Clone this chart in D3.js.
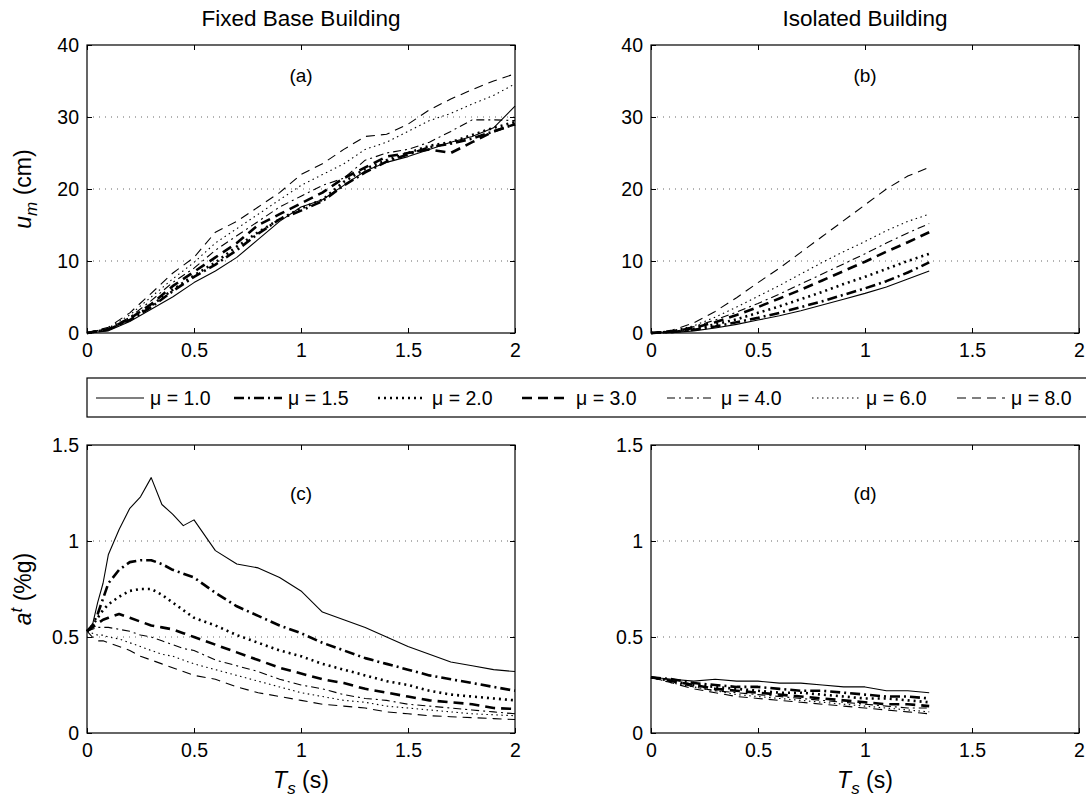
<!DOCTYPE html>
<html><head><meta charset="utf-8">
<script src="https://cdn.jsdelivr.net/npm/d3@7"></script>
<style>body{margin:0;background:#fff}svg{display:block;font-family:"Liberation Sans",Arial,Helvetica,sans-serif}</style>
</head><body>
<script>
// ---------- data ----------
const labels = ["μ = 1.0","μ = 1.5","μ = 2.0","μ = 3.0","μ = 4.0","μ = 6.0","μ = 8.0"];
const xTicks = [0,0.5,1,1.5,2];
const yTicksTop = [0,10,20,30,40];
const yTicksBottom = [0,0.5,1,1.5];
const colTitles = ["Fixed Base Building","Isolated Building"];
const panelTags = ["(a)","(b)","(c)","(d)"];

// (a) fixed base, displacement (cm)
const tA = [0,0.1,0.2,0.3,0.4,0.5,0.6,0.7,0.8,0.9,1.0,1.1,1.2,1.3,1.4,1.5,1.6,1.7,1.8,1.9,2.0];
const uA_10 = [0,0.3,1.6,3.3,5.0,7.0,8.6,10.5,13.0,15.5,17.5,18.5,20.5,22.5,23.7,24.5,25.5,26.5,27.3,28.5,31.5];
const uA_15 = [0,0.5,1.8,3.6,5.8,7.8,9.5,11.5,13.8,15.8,17.0,18.3,20.5,22.3,23.8,24.8,25.8,26.3,27.0,28.0,29.0];
const uA_20 = [0,0.5,1.9,3.8,6.0,8.0,9.8,12.0,14.0,15.8,17.3,18.5,21.0,22.8,24.0,25.0,26.0,26.5,27.5,28.5,29.3];
const uA_30 = [0,0.5,2.0,4.0,6.5,8.5,10.5,12.5,15.0,16.5,18.0,19.5,21.5,23.0,24.5,25.0,25.5,25.0,26.5,28.0,29.0];
const uA_40 = [0,0.6,2.2,4.5,7.0,9.0,11.5,13.5,15.5,17.5,19.0,20.5,21.5,24.0,25.0,25.5,26.5,28.0,29.6,29.6,29.5];
const uA_60 = [0,0.7,2.5,5.0,7.5,9.8,12.5,14.5,16.5,18.5,20.5,22.0,23.5,25.5,26.5,28.0,29.5,30.5,31.8,33.0,34.6];
const uA_80 = [0,0.8,2.8,5.5,8.3,10.5,14.0,15.5,17.5,19.5,22.0,23.5,25.5,27.3,27.6,29.0,31.0,32.5,33.8,35.0,36.0];

// (b) isolated, displacement (cm)
const tB = [0,0.1,0.2,0.3,0.4,0.5,0.6,0.7,0.8,0.9,1.0,1.1,1.2,1.3];
const uB_10 = [0,0.05,0.3,0.7,1.2,1.8,2.4,3.1,3.9,4.7,5.5,6.4,7.5,8.6];
const uB_15 = [0,0.15,0.45,0.9,1.5,2.1,2.8,3.6,4.4,5.3,6.2,7.2,8.4,9.8];
const uB_20 = [0,0.2,0.6,1.2,1.9,2.8,3.7,4.7,5.7,6.8,7.8,8.9,10.0,11.0];
const uB_30 = [0,0.2,0.7,1.5,2.5,3.6,4.8,6.0,7.3,8.6,9.9,11.3,12.6,14.0];
const uB_40 = [0,0.3,0.9,1.8,2.9,4.1,5.4,6.8,8.2,9.6,11.0,12.5,13.9,15.2];
const uB_60 = [0,0.3,1.0,2.2,3.6,5.1,6.6,8.2,9.8,11.3,12.7,14.2,15.5,16.5];
const uB_80 = [0,0.4,1.4,3.0,4.9,7.0,9.0,11.2,13.4,15.6,17.8,20.0,21.8,23.0];

// (c) fixed base, acceleration (%g)
const tC = [0,0.025,0.05,0.075,0.1,0.15,0.2,0.25,0.3,0.35,0.4,0.45,0.5,0.6,0.7,0.8,0.9,1.0,1.1,1.2,1.3,1.4,1.5,1.6,1.7,1.8,1.9,2.0];
const aC_10 = [0.53,0.56,0.68,0.78,0.93,1.06,1.17,1.23,1.33,1.19,1.14,1.08,1.11,0.95,0.88,0.86,0.81,0.74,0.63,0.59,0.55,0.50,0.45,0.41,0.37,0.35,0.33,0.32];
const aC_15 = [0.53,0.56,0.62,0.70,0.78,0.85,0.89,0.90,0.90,0.88,0.85,0.83,0.81,0.73,0.66,0.61,0.56,0.52,0.47,0.43,0.39,0.36,0.33,0.30,0.28,0.26,0.24,0.22];
const aC_20 = [0.53,0.56,0.60,0.64,0.67,0.71,0.74,0.75,0.75,0.72,0.68,0.64,0.60,0.56,0.51,0.47,0.43,0.40,0.36,0.33,0.30,0.27,0.25,0.22,0.20,0.19,0.18,0.17];
const aC_30 = [0.53,0.55,0.57,0.59,0.60,0.62,0.60,0.58,0.56,0.55,0.54,0.52,0.50,0.46,0.42,0.38,0.34,0.31,0.28,0.26,0.23,0.21,0.19,0.17,0.16,0.15,0.13,0.125];
const aC_40 = [0.53,0.54,0.55,0.55,0.55,0.54,0.53,0.51,0.50,0.48,0.46,0.44,0.43,0.38,0.35,0.32,0.28,0.25,0.23,0.20,0.18,0.17,0.15,0.14,0.13,0.12,0.11,0.10];
const aC_60 = [0.53,0.52,0.51,0.51,0.50,0.49,0.47,0.45,0.43,0.41,0.40,0.38,0.36,0.33,0.30,0.27,0.24,0.21,0.19,0.17,0.16,0.14,0.13,0.12,0.11,0.10,0.095,0.09];
const aC_80 = [0.53,0.50,0.48,0.48,0.47,0.45,0.43,0.40,0.38,0.36,0.34,0.32,0.30,0.28,0.24,0.21,0.19,0.17,0.15,0.14,0.13,0.11,0.10,0.09,0.085,0.08,0.075,0.07];

// (d) isolated, acceleration (%g)
const tD = [0,0.1,0.2,0.3,0.4,0.5,0.6,0.7,0.8,0.9,1.0,1.1,1.2,1.3];
const aD_10 = [0.29,0.28,0.27,0.28,0.27,0.27,0.26,0.26,0.25,0.24,0.24,0.22,0.22,0.21];
const aD_15 = [0.29,0.28,0.26,0.25,0.24,0.24,0.23,0.22,0.22,0.21,0.20,0.19,0.19,0.18];
const aD_20 = [0.29,0.27,0.25,0.24,0.23,0.22,0.21,0.21,0.20,0.19,0.18,0.18,0.17,0.16];
const aD_30 = [0.29,0.27,0.25,0.23,0.22,0.21,0.20,0.19,0.18,0.17,0.16,0.15,0.15,0.14];
const aD_40 = [0.29,0.27,0.24,0.22,0.21,0.20,0.19,0.18,0.17,0.16,0.15,0.14,0.13,0.13];
const aD_60 = [0.29,0.26,0.24,0.22,0.20,0.19,0.18,0.17,0.16,0.15,0.14,0.13,0.12,0.11];
const aD_80 = [0.29,0.26,0.23,0.21,0.19,0.18,0.17,0.16,0.15,0.14,0.13,0.12,0.11,0.10];

// ---------- styles ----------
const styles = [
  {w:1.1, dash:null},
  {w:2.6, dash:"10,4,2,4"},
  {w:2.6, dash:"2,4"},
  {w:2.6, dash:"10,6"},
  {w:1.1, dash:"8,4,2,4"},
  {w:1.1, dash:"1.5,3.5"},
  {w:1.1, dash:"9,6"}
];

const W = 1086, H = 805;
const svg = d3.select("body").append("svg").attr("width",W).attr("height",H);
const PW = 428, PH = 288;
const panels = [
  {x:87,  y:45,  t:tA, ys:[uA_10,uA_15,uA_20,uA_30,uA_40,uA_60,uA_80], ymax:40,  yt:yTicksTop, tag:panelTags[0], tagY:37},
  {x:651, y:45,  t:tB, ys:[uB_10,uB_15,uB_20,uB_30,uB_40,uB_60,uB_80], ymax:40,  yt:yTicksTop, tag:panelTags[1], tagY:37},
  {x:87,  y:445, t:tC, ys:[aC_10,aC_15,aC_20,aC_30,aC_40,aC_60,aC_80], ymax:1.5, yt:yTicksBottom, tag:panelTags[2], tagY:55},
  {x:651, y:445, t:tD, ys:[aD_10,aD_15,aD_20,aD_30,aD_40,aD_60,aD_80], ymax:1.5, yt:yTicksBottom, tag:panelTags[3], tagY:55}
];
const fmt = d => d3.format("~g")(d);

panels.forEach((p,pi)=>{
  const g = svg.append("g").attr("transform",`translate(${p.x},${p.y})`);
  const x = d3.scaleLinear().domain([0,2]).range([0,PW]);
  const y = d3.scaleLinear().domain([0,p.ymax]).range([PH,0]);
  // grid
  g.append("g").selectAll("line").data(p.yt.filter(v=>v>0 && v<p.ymax)).join("line")
    .attr("x1",0).attr("x2",PW).attr("y1",d=>y(d)).attr("y2",d=>y(d))
    .attr("stroke","#666").attr("stroke-width",1).attr("stroke-dasharray","1,5");
  // lines
  const line = d3.line().x((d,i)=>x(p.t[i])).y(d=>y(d));
  p.ys.forEach((s,si)=>{
    g.append("path").datum(s).attr("d",line).attr("fill","none").attr("stroke","#000")
      .attr("stroke-width",styles[si].w).attr("stroke-dasharray",styles[si].dash)
      .attr("stroke-linejoin","round");
  });
  // axes
  const ax = g.append("g").attr("transform",`translate(0,${PH})`)
    .call(d3.axisBottom(x).tickValues(xTicks).tickFormat(fmt).tickSizeInner(-5).tickSizeOuter(0).tickPadding(10));
  const ay = g.append("g")
    .call(d3.axisLeft(y).tickValues(p.yt).tickFormat(fmt).tickSizeInner(-5).tickSizeOuter(0).tickPadding(8));
  const axT = g.append("g").call(d3.axisTop(x).tickValues(xTicks).tickFormat("").tickSizeInner(-5).tickSizeOuter(0));
  const ayR = g.append("g").attr("transform",`translate(${PW},0)`)
    .call(d3.axisRight(y).tickValues(p.yt).tickFormat("").tickSizeInner(-5).tickSizeOuter(0));
  [ax,ay,axT,ayR].forEach(a=>{a.select(".domain").remove(); a.selectAll("line").attr("stroke","#000");
    a.selectAll("text").attr("font-size",19.5).attr("fill","#000").style("font-family","'Liberation Sans',Arial,sans-serif");});
  g.append("rect").attr("width",PW).attr("height",PH).attr("fill","none").attr("stroke","#000").attr("stroke-width",1.2);
  g.append("text").attr("x",PW/2).attr("y",p.tagY).attr("text-anchor","middle").attr("font-size",19).text(p.tag);
});

// column titles
svg.append("text").attr("x",301).attr("y",26).attr("text-anchor","middle").attr("font-size",22.5).text(colTitles[0]);
svg.append("text").attr("x",865).attr("y",26).attr("text-anchor","middle").attr("font-size",22.5).text(colTitles[1]);

// y labels
const yl1 = svg.append("text").attr("transform","translate(31,189) rotate(-90)").attr("text-anchor","middle").attr("font-size",23);
yl1.append("tspan").attr("font-style","italic").text("u");
yl1.append("tspan").attr("font-style","italic").attr("font-size",17).attr("dy",6).text("m");
yl1.append("tspan").attr("dy",-6).text(" (cm)");
const yl2 = svg.append("text").attr("transform","translate(31,589) rotate(-90)").attr("text-anchor","middle").attr("font-size",23);
yl2.append("tspan").attr("font-style","italic").text("a");
yl2.append("tspan").attr("font-style","italic").attr("font-size",17).attr("dy",-9).text("t");
yl2.append("tspan").attr("dy",9).text(" (%g)");
// x labels
[301,865].forEach(cx=>{
  const t = svg.append("text").attr("x",cx).attr("y",788).attr("text-anchor","middle").attr("font-size",23);
  t.append("tspan").attr("font-style","italic").text("T");
  t.append("tspan").attr("font-style","italic").attr("font-size",17).attr("dy",6).text("s");
  t.append("tspan").attr("dy",-6).text(" (s)");
});

// legend
const lg = svg.append("g");
lg.append("rect").attr("x",87).attr("y",378).attr("width",1010).attr("height",39).attr("fill","#fff").attr("stroke","#000").attr("stroke-width",1.2);
const textX = [150,288,432,576,721,866,1011];
labels.forEach((lab,i)=>{
  const tx = textX[i];
  lg.append("line").attr("x1",tx-54).attr("x2",tx-6).attr("y1",398).attr("y2",398)
    .attr("stroke","#000").attr("stroke-width",styles[i].w).attr("stroke-dasharray",styles[i].dash);
  lg.append("text").attr("x",tx).attr("y",405).attr("font-size",19.5).text(lab);
});
</script>
</body></html>
